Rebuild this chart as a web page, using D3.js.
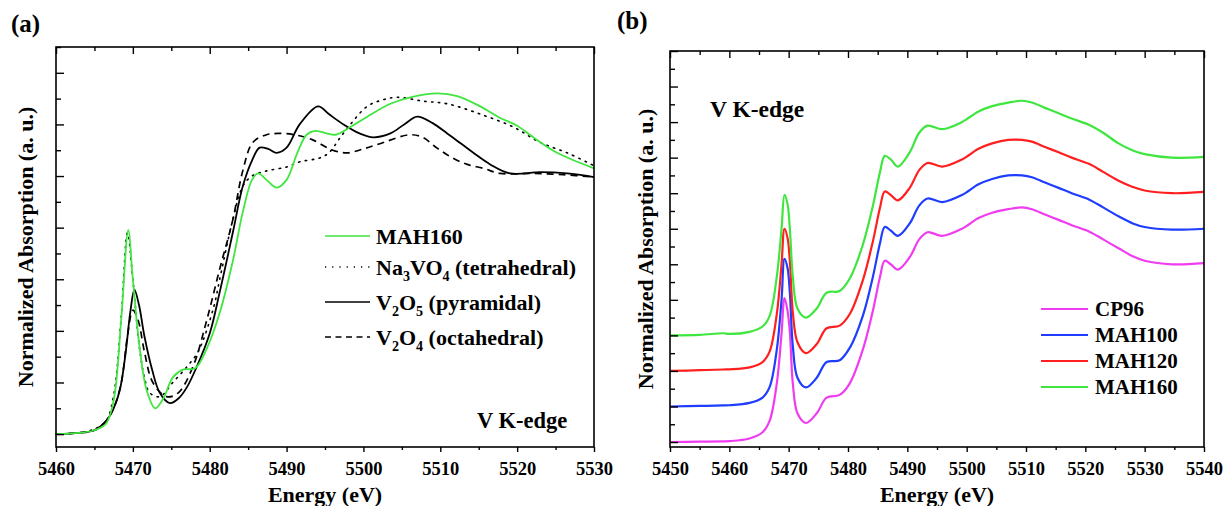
<!DOCTYPE html>
<html>
<head>
<meta charset="utf-8">
<script src="https://cdn.jsdelivr.net/npm/d3@7"></script>
<style>
  html, body { margin: 0; padding: 0; background: #fff; }
  svg {
    display: block;
    font-family: "Liberation Serif", "Times New Roman", serif;
    font-weight: bold;
  }
</style>
</head>
<body>
<svg id="chart" width="1223" height="506"></svg>
<script>
// ---------- data: panel (a), reference compounds ----------

// [energy (eV), normalized absorption]
const mah160A = [
  [5460, 0], [5463, 0.005], [5465, 0.015], [5466.5, 0.04], [5467.5, 0.13],
  [5468.5, 0.45], [5469.4, 0.79], [5470, 0.6], [5470.9, 0.33], [5471.8, 0.17],
  [5472.9, 0.1], [5474, 0.14], [5475.2, 0.22], [5476.5, 0.25], [5478.1, 0.255],
  [5479.6, 0.33], [5481.3, 0.47], [5483, 0.67], [5484.3, 0.86], [5485.5, 0.985],
  [5486.3, 1.01], [5487.4, 0.985], [5488.7, 0.955], [5490, 0.985], [5491.4, 1.09],
  [5492.6, 1.16], [5493.7, 1.175], [5496.3, 1.16], [5498.3, 1.19], [5500.5, 1.23],
  [5503.5, 1.28], [5506.1, 1.305], [5509.6, 1.32], [5512.2, 1.31], [5515.2, 1.27],
  [5517.8, 1.225], [5520, 1.195], [5522.1, 1.15], [5525.2, 1.09], [5530, 1.03],
];

const na3vo4 = [
  [5460, 0], [5463, 0.005], [5465, 0.02], [5466.5, 0.05], [5467.5, 0.15],
  [5468.5, 0.46], [5469.3, 0.78], [5470, 0.6], [5470.8, 0.35], [5471.5, 0.22],
  [5472.2, 0.16], [5473.5, 0.145], [5475.2, 0.2], [5477, 0.26], [5478.5, 0.32],
  [5480.5, 0.49], [5481.3, 0.6], [5483, 0.83], [5484.3, 0.96], [5485.5, 1.0],
  [5487.4, 1.02], [5490, 1.035], [5491.7, 1.055], [5494.3, 1.07], [5495.5, 1.09],
  [5497, 1.15], [5498.3, 1.2], [5500.5, 1.27], [5502.5, 1.295], [5504.4, 1.305],
  [5507.8, 1.29], [5510.9, 1.28], [5515.2, 1.24], [5519.5, 1.19], [5523, 1.13],
  [5526.5, 1.09], [5530, 1.04],
];

const v2o5 = [
  [5460, 0], [5463, 0.005], [5465, 0.015], [5466.5, 0.05], [5467.5, 0.1],
  [5468.3, 0.17], [5469, 0.3], [5469.7, 0.48], [5470.2, 0.56], [5470.8, 0.5],
  [5471.5, 0.38], [5472.5, 0.25], [5473.5, 0.16], [5474.8, 0.12], [5476, 0.14],
  [5477, 0.18], [5478.3, 0.26], [5480, 0.39], [5481.3, 0.55], [5483, 0.78],
  [5484.3, 0.96], [5485.5, 1.06], [5486.5, 1.11], [5487.6, 1.105], [5488.7, 1.09],
  [5490, 1.11], [5491.7, 1.2], [5494.1, 1.27], [5495.5, 1.24], [5497.4, 1.2],
  [5499.5, 1.165], [5501.3, 1.15], [5503.5, 1.165], [5505.3, 1.2], [5507, 1.23],
  [5509, 1.205], [5510.9, 1.165], [5512.5, 1.13], [5514.3, 1.09], [5516.5, 1.045],
  [5519.1, 1.01], [5523, 1.015], [5526.5, 1.01], [5530, 0.996],
];

const v2o4 = [
  [5460, 0], [5463, 0.005], [5465, 0.015], [5466.5, 0.05], [5467.5, 0.1],
  [5468.5, 0.2], [5469.3, 0.38], [5470, 0.48], [5470.7, 0.44], [5471.5, 0.32],
  [5472.6, 0.2], [5474.4, 0.145], [5475.9, 0.16], [5477.8, 0.26], [5479.6, 0.44],
  [5481.3, 0.64], [5483, 0.83], [5484.3, 1.02], [5485.6, 1.13], [5487.4, 1.16],
  [5489, 1.165], [5491, 1.16], [5493.4, 1.14], [5496, 1.1], [5497.9, 1.09],
  [5500, 1.105], [5502.6, 1.13], [5506, 1.16], [5507.7, 1.15], [5509.5, 1.11],
  [5511.6, 1.07], [5513.5, 1.045], [5515.6, 1.03], [5517.8, 1.01], [5522, 1.01],
  [5526, 1.005], [5530, 0.996],
];

// ---------- data: panel (b), samples (stacked by offset) ----------

const energyB = [
  5450, 5455, 5459, 5460, 5463.4, 5465.6, 5466.8, 5468, 5468.8, 5469.3,
  5469.8, 5470.2, 5470.7, 5471.5, 5472.9, 5474.7, 5476.4, 5478.6, 5480.3, 5482.5,
  5484.2, 5485.4, 5486.2, 5487.2, 5488.4, 5490.4, 5492, 5493.4, 5495.9, 5499.2,
  5502, 5504.3, 5507, 5509.3, 5511, 5513.2, 5515.5, 5517.7, 5520.6, 5523,
  5525.6, 5528, 5530, 5534.6, 5540,
];
const cp96 = [
  0, 0.002, 0.004, 0.005, 0.02, 0.055, 0.12, 0.33, 0.61, 0.81,
  0.74, 0.62, 0.33, 0.16, 0.107, 0.16, 0.25, 0.265, 0.33, 0.52,
  0.74, 0.93, 1.02, 1.0, 0.97, 1.04, 1.14, 1.18, 1.16, 1.2,
  1.26, 1.29, 1.31, 1.32, 1.31, 1.28, 1.25, 1.22, 1.185, 1.14,
  1.09, 1.045, 1.02, 1.0, 1.007,
];
const mah100 = [
  0, 0.003, 0.006, 0.007, 0.02, 0.05, 0.11, 0.32, 0.6, 0.83,
  0.78, 0.64, 0.34, 0.16, 0.107, 0.16, 0.25, 0.26, 0.33, 0.51,
  0.73, 0.92, 1.01, 0.99, 0.96, 1.03, 1.13, 1.17, 1.15, 1.19,
  1.25, 1.28, 1.3, 1.3, 1.29, 1.26, 1.23, 1.2, 1.165, 1.12,
  1.07, 1.03, 1.01, 0.995, 1.0,
];
const mah120 = [
  0, 0.004, 0.008, 0.009, 0.02, 0.05, 0.11, 0.32, 0.6, 0.8,
  0.75, 0.62, 0.33, 0.16, 0.1, 0.15, 0.24, 0.255, 0.32, 0.51,
  0.73, 0.92, 1.01, 0.99, 0.96, 1.03, 1.13, 1.17, 1.15, 1.19,
  1.25, 1.28, 1.3, 1.3, 1.29, 1.26, 1.23, 1.2, 1.165, 1.12,
  1.07, 1.035, 1.015, 1.0, 1.007,
];
const mah160B = [
  0, 0.003, 0.012, 0.008, 0.02, 0.05, 0.11, 0.33, 0.6, 0.79,
  0.74, 0.6, 0.33, 0.15, 0.1, 0.15, 0.24, 0.25, 0.32, 0.51,
  0.73, 0.92, 1.01, 0.99, 0.95, 1.03, 1.14, 1.18, 1.16, 1.2,
  1.26, 1.29, 1.31, 1.32, 1.31, 1.28, 1.25, 1.22, 1.185, 1.14,
  1.08, 1.04, 1.02, 1.0, 1.004,
];
const namesB = ["CP96", "MAH100", "MAH120", "MAH160"];
const offsetsB = [0, 0.2, 0.4, 0.6];

// tick values
const xMajorA = d3.range(5460, 5531, 10);
const xMinorA = d3.range(5465, 5530, 10);
const yMajorA = d3.range(0, 1.41, 0.2);
const yMinorA = d3.range(0.1, 1.51, 0.2);
const xMajorB = d3.range(5450, 5541, 10);
const xMinorB = d3.range(5455, 5540, 10);
const yMajorB = d3.range(0, 2.21, 0.2);
const yMinorB = d3.range(0.1, 2.11, 0.2);

// ---------- helpers ----------

const svg = d3.select("#chart");
const GREEN = "#3fe63f";
const FONT = '"Liberation Serif", "Times New Roman", serif';

const lineGen = (x, y) =>
  d3.line()
    .x((d) => x(d[0]))
    .y((d) => y(d[1]))
    .curve(d3.curveCatmullRom.alpha(0.5));

function clean(g) {
  g.attr("font-family", FONT).attr("font-size", null);
  g.select(".domain").remove();
  g.selectAll(".tick line").attr("stroke", "#000").attr("stroke-width", 1.4);
}

// frame + ticks: bottom outward with labels, top/left inward, no right ticks
function drawAxes(g, x, y, t) {
  const [xl, xr] = x.range();
  const [yb, yt] = y.range();

  g.append("g").attr("transform", `translate(0,${yb})`)
    .call(d3.axisBottom(x).tickValues(t.xMajor).tickSize(5).tickPadding(10)
      .tickFormat(d3.format("d")))
    .call(clean)
    .call((s) => s.selectAll("text")
      .attr("font-size", 18.5)
      .attr("font-family", FONT)
      .attr("font-weight", "bold")
      .attr("fill", "#000"));
  g.append("g").attr("transform", `translate(0,${yb})`)
    .call(d3.axisBottom(x).tickValues(t.xMinor).tickSize(3).tickFormat(""))
    .call(clean);

  g.append("g").attr("transform", `translate(0,${yt})`)
    .call(d3.axisTop(x).tickValues(t.xMajor).tickSize(-7).tickFormat(""))
    .call(clean);
  g.append("g").attr("transform", `translate(0,${yt})`)
    .call(d3.axisTop(x).tickValues(t.xMinor).tickSize(-4).tickFormat(""))
    .call(clean);

  g.append("g").attr("transform", `translate(${xl},0)`)
    .call(d3.axisLeft(y).tickValues(t.yMajor).tickSize(-8).tickFormat(""))
    .call(clean);
  g.append("g").attr("transform", `translate(${xl},0)`)
    .call(d3.axisLeft(y).tickValues(t.yMinor).tickSize(-5).tickFormat(""))
    .call(clean);

  g.append("rect")
    .attr("x", xl).attr("y", yt)
    .attr("width", xr - xl).attr("height", yb - yt)
    .attr("fill", "none").attr("stroke", "#000").attr("stroke-width", 1.6);

  g.append("text")
    .attr("x", (xl + xr) / 2).attr("y", 502)
    .attr("text-anchor", "middle").attr("font-size", 22)
    .text("Energy (eV)");

  g.append("text")
    .attr("transform", `translate(${t.yTitleX},${(yt + yb) / 2}) rotate(-90)`)
    .attr("text-anchor", "middle").attr("font-size", 22)
    .text("Normalized Absorption (a. u.)");
}

// text with subscript parts: [["V"], ["2", true], ...]
function richText(sel, parts, size) {
  const subSize = size * 0.64;
  let shifted = false;
  parts.forEach(([str, sub]) => {
    const ts = sel.append("tspan").text(str);
    if (sub && !shifted) {
      ts.attr("dy", size * 0.3).attr("font-size", subSize);
      shifted = true;
    } else if (sub) {
      ts.attr("font-size", subSize);
    } else if (shifted) {
      ts.attr("dy", -size * 0.3);
      shifted = false;
    }
  });
}

// ---------- panel (a) ----------

const xA = d3.scaleLinear().domain([5460, 5530]).range([56, 594]);
const yA = d3.scaleLinear().domain([-0.05, 1.5]).range([447, 47]);
const gA = svg.append("g");

const seriesA = [
  { data: v2o4, color: "#000", width: 1.7, dash: "7 5", cap: "butt" },
  { data: na3vo4, color: "#000", width: 1.6, dash: "1.4 5.5", cap: "round" },
  { data: v2o5, color: "#000", width: 1.8, dash: null, cap: "butt" },
  { data: mah160A, color: GREEN, width: 1.8, dash: null, cap: "butt" },
];

gA.selectAll("path.series")
  .data(seriesA)
  .join("path")
  .attr("class", "series")
  .attr("d", (d) => lineGen(xA, yA)(d.data))
  .attr("fill", "none")
  .attr("stroke", (d) => d.color)
  .attr("stroke-width", (d) => d.width)
  .attr("stroke-dasharray", (d) => d.dash)
  .attr("stroke-linecap", (d) => d.cap);

drawAxes(gA, xA, yA, {
  xMajor: xMajorA, xMinor: xMinorA, yMajor: yMajorA, yMinor: yMinorA, yTitleX: 33,
});

const legendA = [
  { parts: [["MAH160"]], color: GREEN, dash: null, y: 236 },
  { parts: [["Na"], ["3", true], ["VO"], ["4", true], [" (tetrahedral)"]], color: "#000", dash: "1.2 6", y: 267 },
  { parts: [["V"], ["2", true], ["O"], ["5", true], [" (pyramidal)"]], color: "#000", dash: null, y: 302 },
  { parts: [["V"], ["2", true], ["O"], ["4", true], [" (octahedral)"]], color: "#000", dash: "6 4.5", y: 337 },
];

legendA.forEach((d) => {
  gA.append("line")
    .attr("x1", 325).attr("x2", 370).attr("y1", d.y).attr("y2", d.y)
    .attr("stroke", d.color).attr("stroke-width", 1.7)
    .attr("stroke-dasharray", d.dash);
  const t = gA.append("text").attr("x", 376).attr("y", d.y + 7.5).attr("font-size", 22);
  richText(t, d.parts, 22);
});

gA.append("text").attr("x", 477).attr("y", 428).attr("font-size", 22.5).text("V K-edge");
gA.append("text").attr("x", 11).attr("y", 32).attr("font-size", 25).text("(a)");

// ---------- panel (b) ----------

const xB = d3.scaleLinear().domain([5450, 5540]).range([670, 1204]);
const yB = d3.scaleLinear().domain([-0.028, 2.2]).range([447, 51]);
const gB = svg.append("g");

const colorsB = ["#f03cf0", "#1f3dff", "#ff1f1f", GREEN];
const valuesB = [cp96, mah100, mah120, mah160B];

const seriesB = namesB.map((name, i) => ({
  name,
  color: colorsB[i],
  points: energyB.map((e, j) => [e, valuesB[i][j] + offsetsB[i]]),
}));

gB.selectAll("path.series")
  .data(seriesB)
  .join("path")
  .attr("class", "series")
  .attr("d", (d) => lineGen(xB, yB)(d.points))
  .attr("fill", "none")
  .attr("stroke", (d) => d.color)
  .attr("stroke-width", 2.2);

drawAxes(gB, xB, yB, {
  xMajor: xMajorB, xMinor: xMinorB, yMajor: yMajorB, yMinor: yMinorB, yTitleX: 653,
});

const legendRowsB = [309, 335, 361, 387];
seriesB.forEach((d, i) => {
  gB.append("line")
    .attr("x1", 1041).attr("x2", 1088)
    .attr("y1", legendRowsB[i]).attr("y2", legendRowsB[i])
    .attr("stroke", d.color).attr("stroke-width", 2.2);
  gB.append("text")
    .attr("x", 1095).attr("y", legendRowsB[i] + 7)
    .attr("font-size", 21)
    .text(d.name);
});

gB.append("text").attr("x", 710).attr("y", 117).attr("font-size", 23.5).text("V K-edge");
gB.append("text").attr("x", 617).attr("y", 29).attr("font-size", 25).text("(b)");
</script>
</body>
</html>
